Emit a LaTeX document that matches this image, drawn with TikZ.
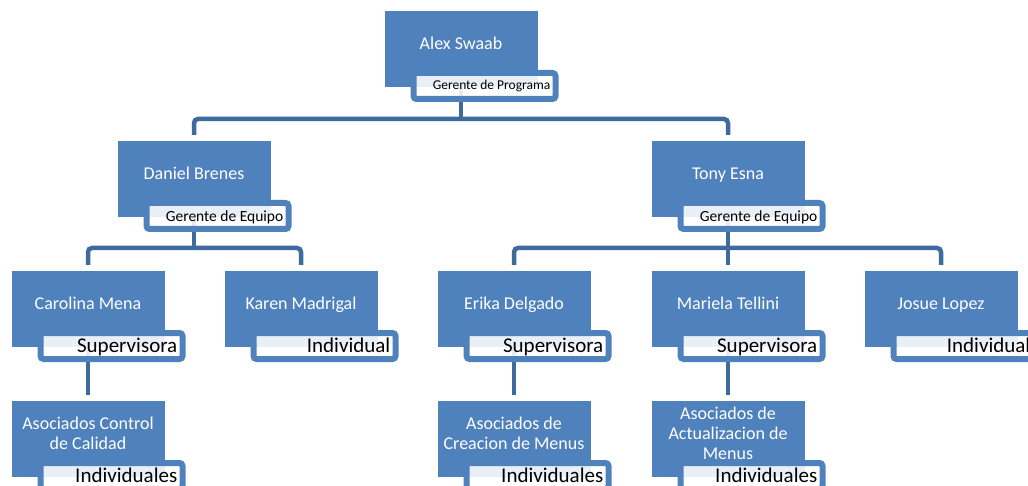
\documentclass[tikz,border=0pt]{standalone}
\usepackage{fontspec}
\setmainfont{Carlito}
\usetikzlibrary{calc}
\definecolor{boxblue}{HTML}{4F81BD}
\definecolor{linkblue}{HTML}{3F6A9E}
\tikzset{
  namebox/.style={draw=none, fill=boxblue, minimum width=153pt, minimum height=76pt, inner sep=0pt, outer sep=0pt},
  nametext/.style={text=white, font=\fontsize{18}{20}\selectfont, align=center, inner sep=0pt},
  tagbox/.style={draw=boxblue, line width=6pt, fill=white, fill opacity=0.88, draw opacity=1, rounded corners=3pt, minimum width=142pt, minimum height=26pt, inner sep=0pt, outer sep=0pt},
  tagtext/.style={text=black, font=\fontsize{21}{24}\selectfont, inner sep=0pt, anchor=base east},
  smalltag/.style={font=\fontsize{15.5}{18}\selectfont},
  tinytag/.style={font=\fontsize{13.5}{16}\selectfont},
  conn/.style={draw=linkblue, line width=4.5pt, rounded corners=4pt}
}
\begin{document}
\begin{tikzpicture}[x=1pt,y=-1pt]
\useasboundingbox (0,0) rectangle (1028,486);
% boxes
\node[namebox] (alex) at (461,49) {};
\node[namebox] (daniel) at (194,179) {};
\node[namebox] (tony) at (728,179) {};
\node[namebox] (carolina) at (88,309) {};
\node[namebox] (karen) at (301,309) {};
\node[namebox] (erika) at (514,309) {};
\node[namebox] (mariela) at (728,309) {};
\node[namebox] (josue) at (941,309) {};
\node[namebox] (asocA) at (88,439) {};
\node[namebox] (asocB) at (514,439) {};
\node[namebox] (asocC) at (728,439) {};
% connectors
\coordinate (jA) at ($(alex.south)+(0,32)$);
\coordinate (jD) at ($(daniel.south)+(0,31)$);
\coordinate (jT) at ($(tony.south)+(0,31)$);
\begin{scope}[on background layer/.style={}]
\draw[conn] ([yshift=6pt]daniel.north) |- (jA) -| ([yshift=6pt]tony.north);
\draw[conn] (alex.south) -- (jA);
\draw[conn] ([yshift=6pt]carolina.north) |- (jD) -| ([yshift=6pt]karen.north);
\draw[conn] (daniel.south) -- (jD);
\draw[conn] ([yshift=6pt]erika.north) |- (jT) -| ([yshift=6pt]josue.north);
\draw[conn] (tony.south) -- ([yshift=6pt]mariela.north);
\draw[conn] (carolina.south) -- ([yshift=6pt]asocA.north);
\draw[conn] (erika.south) -- ([yshift=6pt]asocB.north);
\draw[conn] (mariela.south) -- ([yshift=6pt]asocC.north);
\end{scope}
% redraw boxes over connectors
\foreach \n in {alex,daniel,tony,carolina,karen,erika,mariela,josue,asocA,asocB,asocC}
  \fill[boxblue] (\n.north west) rectangle (\n.south east);
% names
\node[nametext, anchor=base] (alexT) at ($(alex.north)+(0,38.5)$) {Alex Swaab};
\node[nametext, anchor=base] (danielT) at ($(daniel.north)+(0,38.5)$) {Daniel Brenes};
\node[nametext, anchor=base] (tonyT) at ($(tony.north)+(0,38.5)$) {Tony Esna};
\node[nametext, anchor=base] (carolinaT) at ($(carolina.north)+(0,38.5)$) {Carolina Mena};
\node[nametext, anchor=base] (karenT) at ($(karen.north)+(0,38.5)$) {Karen Madrigal};
\node[nametext, anchor=base] (erikaT) at ($(erika.north)+(0,38.5)$) {Erika Delgado};
\node[nametext, anchor=base] (marielaT) at ($(mariela.north)+(0,38.5)$) {Mariela Tellini};
\node[nametext, anchor=base] (josueT) at ($(josue.north)+(0,38.5)$) {Josue Lopez};
\node[nametext, anchor=center] (asocAT) at ($(asocA.north)+(0,32)$) {Asociados Control\\de Calidad};
\node[nametext, anchor=center] (asocBT) at ($(asocB.north)+(0,32)$) {Asociados de\\Creacion de Menus};
\node[nametext, anchor=center] (asocCT) at ($(asocC.north)+(0,32)$) {Asociados de\\Actualizacion de\\Menus};
% tags
\foreach \n in {alex,daniel,tony,carolina,karen,erika,mariela,josue,asocA,asocB,asocC}
  \node[tagbox] (\n tag) at ($(\n.south east)+(-53,-1)$) {};
\node[tagtext, tinytag] at ($(alextag.east)+(-5,4)$) {Gerente de Programa};
\node[tagtext, smalltag] at ($(danieltag.east)+(-5,5.5)$) {Gerente de Equipo};
\node[tagtext, smalltag] at ($(tonytag.east)+(-5,5.5)$) {Gerente de Equipo};
\node[tagtext] at ($(carolinatag.east)+(-5,6.5)$) {Supervisora};
\node[tagtext] at ($(karentag.east)+(-5,6.5)$) {Individual};
\node[tagtext] at ($(erikatag.east)+(-5,6.5)$) {Supervisora};
\node[tagtext] at ($(marielatag.east)+(-5,6.5)$) {Supervisora};
\node[tagtext] at ($(josuetag.east)+(-5,6.5)$) {Individual};
\node[tagtext] at ($(asocAtag.east)+(-5,6.5)$) {Individuales};
\node[tagtext] at ($(asocBtag.east)+(-5,6.5)$) {Individuales};
\node[tagtext] at ($(asocCtag.east)+(-5,6.5)$) {Individuales};
\end{tikzpicture}
\end{document}
